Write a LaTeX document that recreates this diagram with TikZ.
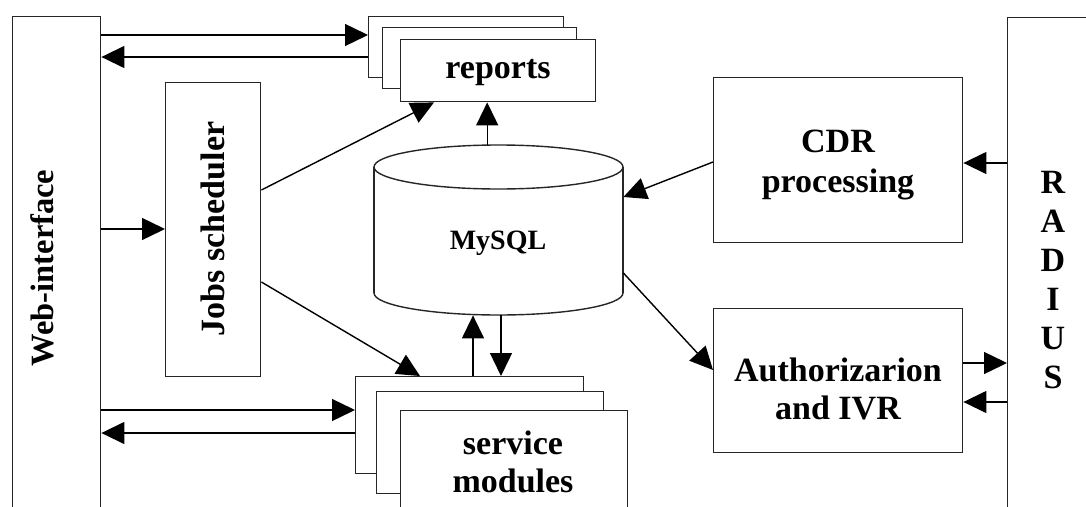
\documentclass[tikz,border=0pt]{standalone}
\usepackage{fontspec}
\setmainfont{Liberation Serif}
\usetikzlibrary{arrows.meta}
\tikzset{
  box/.style={draw=black!85, line width=1.4pt, fill=white, inner sep=0pt, anchor=north west},
  conn/.style={line width=1.4pt, -{Triangle[length=23pt,width=22pt]}},
  lbl/.style={font=\bfseries\fontsize{34}{39}\selectfont, align=center, inner sep=0pt},
  dbline/.style={draw=black!85, line width=1.4pt},
}
\begin{document}
\begin{tikzpicture}[x=1pt,y=-1pt]
\useasboundingbox (0,0) rectangle (1086,506);
\clip (0,0) rectangle (1086,506);

% side columns
\node[box, minimum width=88, minimum height=600] (web) at (12,16) {};
\node[box, minimum width=200, minimum height=600] (radius) at (1007,17) {};
\node[lbl, rotate=90, font=\bfseries\fontsize{32.5}{36}\selectfont] (webtext) at (42,268) {Web-interface};
\node[lbl] (radtext) at (1053,280) {R\\A\\D\\I\\U\\S};

% reports stack
\node[box, minimum width=195, minimum height=61] (rep1) at (368,16) {};
\node[box, minimum width=194, minimum height=61] (rep2) at (382,27) {};
\node[box, minimum width=195, minimum height=62] (rep3) at (400,39) {};
\node[lbl] (reptext) at (498,73) {reports};

% jobs scheduler
\node[box, minimum width=95, minimum height=294] (jobs) at (165,82) {};
\node[lbl, rotate=90] (jobstext) at (212.5,229) {Jobs scheduler};

% service modules stack
\node[box, minimum width=228, minimum height=97] (svc1) at (355,376) {};
\node[box, minimum width=227, minimum height=102] (svc2) at (376,391) {};
\node[box, minimum width=227, minimum height=200] (svc3) at (400,410) {};
\node[lbl, font=\bfseries\fontsize{34}{38}\selectfont] (svctext) at (513,462) {service\\modules};

% processing boxes
\node[box, minimum width=249, minimum height=165] (cdr) at (713,77) {};
\node[lbl, font=\bfseries\fontsize{34}{40}\selectfont] (cdrtext) at (838,165) {CDR\\processing};
\node[box, minimum width=249, minimum height=144] (auth) at (713,308) {};
\node[lbl, font=\bfseries\fontsize{34}{38}\selectfont] (authtext) at (838,389) {Authorizarion\\and IVR};

% database cylinder
\node[inner sep=0pt, minimum width=249, minimum height=170, anchor=north west] (db) at (374,145) {};
\fill[white] (374,167) rectangle (623,293);
\begin{scope}
  \clip (360,293) rectangle (640,330);
  \filldraw[dbline, fill=white] (498.5,293) ellipse [x radius=124.5, y radius=22];
\end{scope}
\draw[dbline] (374,167) -- (374,293) (623,167) -- (623,293);
\filldraw[dbline, fill=white] (498.5,167) ellipse [x radius=124.5, y radius=22];
\node[lbl, font=\bfseries\fontsize{28}{32}\selectfont] (dbtext) at (498,243) {MySQL};

% connectors
\draw[conn] (web.east |- 0,35) -- (rep1.west |- 0,35);
\draw[conn] (rep1.west |- 0,57) -- (web.east |- 0,57);
\draw[conn] (web.east |- 0,229) -- (jobs.west |- 0,229);
\draw[conn] (jobs.east |- 0,190) -- ([xshift=34pt]rep3.south west);
\draw[conn] (jobs.east |- 0,282) -- ([xshift=65pt]svc1.north west);
\draw[conn] (web.east |- 0,410) -- (svc1.west |- 0,410);
\draw[conn] (svc1.west |- 0,433) -- (web.east |- 0,433);
\draw[conn] ([xshift=-11.5pt]db.north) -- ([xshift=-11.5pt]db.north |- rep3.south);
\draw[conn] (473,0 |- svc1.north) -- (473,0 |- db.south);
\draw[conn] (501,0 |- db.south) -- (501,0 |- svc1.north);
\draw[conn] (cdr.west |- 0,162) -- (db.east |- 0,197);
\draw[conn] (db.east |- 0,273) -- (auth.west |- 0,370);
\draw[conn] (radius.west |- 0,163) -- (cdr.east |- 0,163);
\draw[conn] (auth.east |- 0,363) -- (radius.west |- 0,363);
\draw[conn] (radius.west |- 0,402) -- (auth.east |- 0,402);
\end{tikzpicture}
\end{document}
